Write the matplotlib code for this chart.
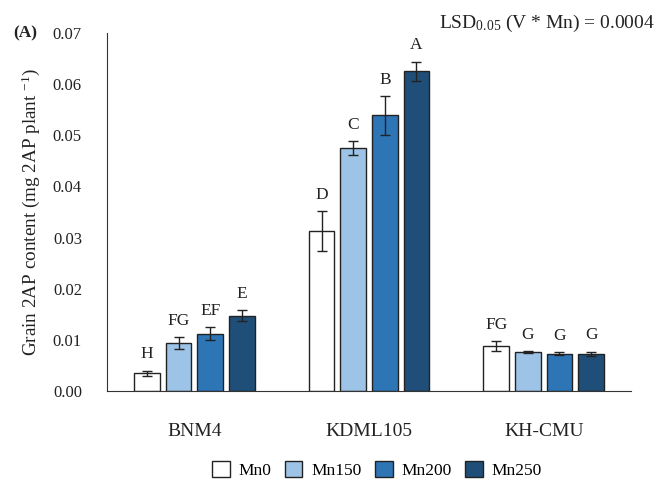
import numpy as np
import matplotlib
matplotlib.use("Agg")
import matplotlib.pyplot as plt

plt.rcParams['font.family'] = ['Liberation Serif', 'DejaVu Serif']
plt.rcParams['mathtext.fontset'] = 'custom'
plt.rcParams['mathtext.rm'] = 'Liberation Serif'
plt.rcParams['mathtext.it'] = 'Liberation Serif:italic'

# data
varieties = ['BNM4', 'KDML105', 'KH-CMU']
treatments = ['Mn0', 'Mn150', 'Mn200', 'Mn250']
colors = ['#ffffff', '#9dc3e6', '#2e75b6', '#1f4e79']

means = [
    [0.0035, 0.0094, 0.0112, 0.0147],   # BNM4
    [0.0312, 0.0475, 0.0539, 0.0625],   # KDML105
    [0.0088, 0.0076, 0.0073, 0.0073],   # KH-CMU
]
errs = [
    [0.0005, 0.0011, 0.0013, 0.0011],
    [0.0039, 0.0013, 0.0038, 0.0019],
    [0.0010, 0.0002, 0.0003, 0.0004],
]
letters = [
    ['H', 'FG', 'EF', 'E'],
    ['D', 'C', 'B', 'A'],
    ['FG', 'G', 'G', 'G'],
]

means = np.array(means)
errs = np.array(errs)

fig = plt.figure(figsize=(6.59, 4.79), dpi=100)
ax = fig.add_axes([107/659, 1 - 391/479, (631-107)/659, (391-33)/479])

x = np.arange(len(varieties))
w = 0.146
step = 0.181
for j, t in enumerate(treatments):
    pos = x + (j - 1.5) * step
    ax.bar(pos, means[:, j], width=w, color=colors[j], edgecolor='#222222',
           linewidth=1.0, label=t, zorder=2)
    ax.errorbar(pos, means[:, j], yerr=errs[:, j], fmt='none', ecolor='#222222',
                elinewidth=1.0, capsize=3.5, capthick=1.0, zorder=3)
    for i in range(len(varieties)):
        ax.annotate(letters[i][j], (pos[i], means[i, j] + errs[i, j]),
                    xytext=(0, 6), textcoords='offset points',
                    ha='center', va='bottom', fontsize=12.5, color='#222222')

ax.set_xlim(-0.5, 2.5)
ax.set_ylim(0, 0.07)
ax.set_yticks(np.arange(0, 0.071, 0.01))
ax.set_yticklabels(['%.2f' % v for v in np.arange(0, 0.071, 0.01)])
ax.set_xticks(x)
ax.set_xticklabels(varieties)
ax.tick_params(axis='both', length=0, colors='#222222')
ax.tick_params(axis='y', pad=18, labelsize=12)
ax.tick_params(axis='x', pad=23, labelsize=14)

for s in ['top', 'right']:
    ax.spines[s].set_visible(False)
ax.spines['left'].set_color('#333333')
ax.spines['bottom'].set_color('#333333')

ax.set_ylabel('Grain 2AP content (mg 2AP plant $^{-1}$)', fontsize=13.8,
              color='#222222', labelpad=8)

fig.text(13/659, 1 - 33/479, '(A)', fontsize=12.5, fontweight='bold',
         va='center', ha='left', color='#222222')
fig.text(655/659, 1 - 23/479, r'LSD$_{0.05}$ (V * Mn) = 0.0004', fontsize=14,
         va='center', ha='right', color='#222222')

leg = ax.legend(loc='center', bbox_to_anchor=(377/659, 1 - 470/479),
                bbox_transform=fig.transFigure, ncol=4, frameon=False,
                fontsize=12.5, handlelength=1.0, handleheight=1.0,
                handletextpad=0.5, columnspacing=0.8)

fig.savefig('out.png', dpi=100)
